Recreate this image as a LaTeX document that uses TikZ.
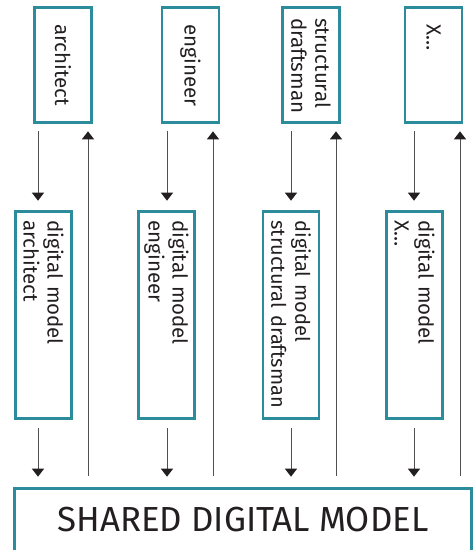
\documentclass[tikz,border=0pt]{standalone}
\usepackage{fontspec}
\setmainfont{Fira Sans}
\usetikzlibrary{arrows.meta}

\definecolor{boxteal}{RGB}{44,140,155}
\definecolor{linegray}{RGB}{80,80,80}
\definecolor{textdark}{RGB}{35,31,32}

\tikzset{
    role/.style={draw=boxteal, line width=2.6pt, rotate=-90,
        minimum width=115pt, minimum height=57pt, inner xsep=17pt,
        text width=81pt, align=left, text=textdark,
        execute at begin node={\hyphenpenalty=10000},
        font=\fontsize{20.5}{24}\selectfont},
    model/.style={role, minimum width=207pt, minimum height=56pt,
        inner xsep=9pt, text width=189pt},
    flow/.style={draw=linegray, line width=1pt,
        -{Triangle[width=12pt,length=8pt,color=textdark]}},
    down1/.style={flow, shorten <=7.5pt, shorten >=9.5pt},
    down2/.style={flow, shorten <=8.5pt, shorten >=10.5pt},
    back/.style={flow, shorten <=11.5pt, shorten >=7.5pt},
}

\begin{document}
\begin{tikzpicture}[x=1pt,y=-1pt]
    \useasboundingbox (0,0) rectangle (474,550);
    \clip (0,0) rectangle (474,550);

    % Draw the roles
    \node[role] (arch) at (63,65) {architect};
    \node[role] (eng) at (190.5,65) {engineer};
    \node[role, inner xsep=10.5pt, text width=94pt] (sdm) at (311,65)
        {structural\\draftsman};
    \node[role] (other) at (433.5,65) {X…};

    % Draw the digital models of each role
    \node[model] (arch_dm) at (43.5,315) {digital model\\architect};
    \node[model] (eng_dm) at (166.5,315) {digital model\\engineer};
    \node[model, font=\fontsize{20}{24}\selectfont] (sdm_dm) at (291,315)
        {digital model\\structural draftsman};
    \node[model] (other_dm) at (414.5,315) {digital model\\X…};

    % Draw the shared model
    \node[draw=boxteal, line width=2.6pt, minimum width=457pt,
        minimum height=63pt, text=textdark,
        font=\fontsize{34.8}{40}\selectfont] (shared) at (243,520)
        {SHARED DIGITAL MODEL};

    % x positions of the arrows
    \coordinate (d_1) at (38,0);
    \coordinate (u_1) at (88,0);
    \coordinate (d_2) at (167,0);
    \coordinate (u_2) at (213,0);
    \coordinate (d_3) at (291,0);
    \coordinate (u_3) at (336,0);
    \coordinate (d_4) at (414,0);
    \coordinate (u_4) at (460,0);

    % Draw arrows
    \draw[down1] (arch.east -| d_1) -- (arch_dm.west -| d_1);
    \draw[down2] (arch_dm.east -| d_1) -- (shared.north -| d_1);
    \draw[back] (shared.north -| u_1) -- (arch.east -| u_1);

    \draw[down1] (eng.east -| d_2) -- (eng_dm.west -| d_2);
    \draw[down2] (eng_dm.east -| d_2) -- (shared.north -| d_2);
    \draw[back] (shared.north -| u_2) -- (eng.east -| u_2);

    \draw[down1] (sdm.east -| d_3) -- (sdm_dm.west -| d_3);
    \draw[down2] (sdm_dm.east -| d_3) -- (shared.north -| d_3);
    \draw[back] (shared.north -| u_3) -- (sdm.east -| u_3);

    \draw[down1] (other.east -| d_4) -- (other_dm.west -| d_4);
    \draw[down2] (other_dm.east -| d_4) -- (shared.north -| d_4);
    \draw[back] (shared.north -| u_4) -- (other.east -| u_4);

\end{tikzpicture}
\end{document}
